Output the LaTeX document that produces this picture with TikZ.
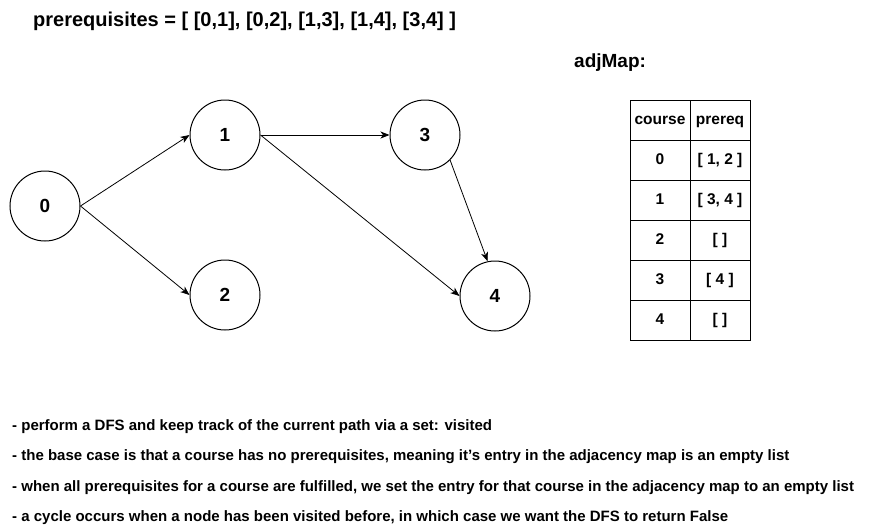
\documentclass[tikz,border=0pt]{standalone}
\usepackage{fontspec}
\setmainfont{Liberation Sans}
\usetikzlibrary{arrows.meta}
\begin{document}
\begin{tikzpicture}[x=1pt,y=-1pt,
  vert/.style={circle,draw,line width=1pt,minimum size=70pt,inner sep=0pt,font=\fontsize{19}{22}\selectfont\bfseries},
  edge/.style={line width=0.8pt,-{Stealth[length=9pt,width=7pt,inset=2.5pt]}},
  cell/.style={draw,line width=1pt,minimum width=60pt,minimum height=40pt,inner sep=0pt,text height=11.5pt,text depth=3pt,font=\fontsize{15.5}{18}\selectfont\bfseries},
  note/.style={anchor=west,inner sep=0pt,font=\fontsize{15}{18}\selectfont\bfseries}]
\useasboundingbox (0,0) rectangle (870,530);
\node[anchor=west,inner sep=0pt,font=\fontsize{20}{24}\selectfont\bfseries] (title) at (33,21) {prerequisites = [ [0,1], [0,2], [1,3], [1,4], [3,4] ]};
\node[anchor=west,inner sep=0pt,font=\fontsize{19}{22}\selectfont\bfseries] (adj) at (574,63) {adjMap:};
\node[vert] (n0) at (45,206) {0};
\node[vert] (n1) at (225,135) {1};
\node[vert] (n2) at (225,295) {2};
\node[vert] (n3) at (425,135) {3};
\node[vert] (n4) at (495,296) {4};
\draw[edge] (n0.east) -- (n1.west);
\draw[edge] (n0.east) -- (n2.west);
\draw[edge] (n1.east) -- (n3.west);
\draw[edge] (n1.east) -- (n4.west);
\draw[edge] (n3.-45) -- (n4.102);
\node[cell] (h1) at (660,120) {course};
\node[cell] (h2) at (720,120) {prereq};
\node[cell] (c0) at (660,160) {0};
\node[cell] (p0) at (720,160) {[ 1, 2 ]};
\node[cell] (c1) at (660,200) {1};
\node[cell] (p1) at (720,200) {[ 3, 4 ]};
\node[cell] (c2) at (660,240) {2};
\node[cell] (p2) at (720,240) {[ ]};
\node[cell] (c3) at (660,280) {3};
\node[cell] (p3) at (720,280) {[ 4 ]};
\node[cell] (c4) at (660,320) {4};
\node[cell] (p4) at (720,320) {[ ]};
\node[note] (t1) at (12,427) {- perform a DFS and keep track of the current path via a set: visited};
\node[note] (t2) at (12,457) {- the base case is that a course has no prerequisites, meaning it's entry in the adjacency map is an empty list};
\node[note] (t3) at (12,488) {- when all prerequisites for a course are fulfilled, we set the entry for that course in the adjacency map to an empty list};
\node[note] (t4) at (12,518) {- a cycle occurs when a node has been visited before, in which case we want the DFS to return False};
\end{tikzpicture}
\end{document}
